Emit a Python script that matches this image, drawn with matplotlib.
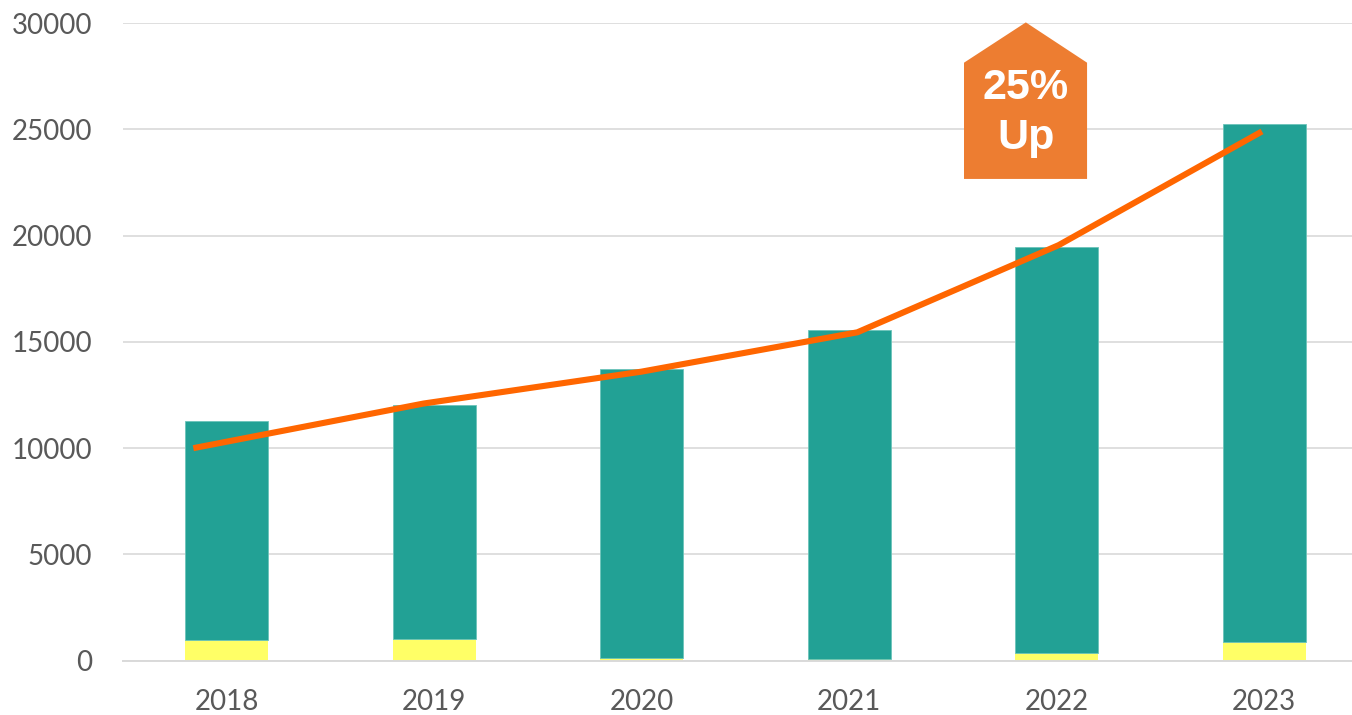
import matplotlib.pyplot as plt
from matplotlib.patches import Polygon

years = ["2018", "2019", "2020", "2021", "2022", "2023"]
total = [11300, 12030, 13720, 15570, 19470, 25230]
yellow_part = [960, 1010, 110, 70, 376, 860]
teal_part = [t - y for t, y in zip(total, yellow_part)]

# trend line drawn over the bars (x in category units)
trend_x = [-0.16, 0.95, 2.0, 3.04, 4.01, 4.99]
trend_y = [10000, 12100, 13600, 15450, 19550, 24900]

badge_label = ["25%", "Up"]

TEAL = "#22A195"
YELLOW = "#FFFF66"
LINE = "#FF6600"
BADGE = "#ED7D31"
GRID = "#D9D9D9"
TXT = "#595959"

plt.rcParams["font.family"] = ["Lato", "DejaVu Sans"]

fig = plt.figure(figsize=(13.52, 7.15), dpi=100)
ax = fig.add_axes([0.0908, 0.0759, 0.9209, 0.8919])

x = list(range(len(years)))
ax.bar(x, yellow_part, width=0.4, color=YELLOW, zorder=2)
ax.bar(x, teal_part, width=0.4, bottom=yellow_part, color=TEAL,
       edgecolor="#6cc4ba", linewidth=0.6, zorder=2)
ax.plot(trend_x, trend_y, color=LINE, linewidth=4.4, solid_capstyle="butt",
        solid_joinstyle="miter", zorder=3)

# "25% Up" badge (house shape)
bx0, bx1, bapex = 3.554, 4.147, 3.852
by0, bshoulder, btop = 22665, 28134, 30030
badge = Polygon([(bx0, by0), (bx1, by0), (bx1, bshoulder), (bapex, btop), (bx0, bshoulder)],
                closed=True, facecolor=BADGE, edgecolor="none", zorder=4, clip_on=False)
ax.add_patch(badge)
ax.text(bapex, 26406, badge_label[0], ha="center", va="baseline", color="white",
        fontsize=31, fontweight="bold", family="Liberation Sans", zorder=5)
ax.text(bapex, 24054, badge_label[1], ha="center", va="baseline", color="white",
        fontsize=31, fontweight="bold", family="Liberation Sans", zorder=5)

ax.set_xlim(-0.5, 5.5)
ax.set_ylim(0, 30000)
ax.set_yticks(range(0, 30001, 5000))
ax.set_xticks(x)
ax.set_xticklabels(years)

ax.grid(axis="y", color=GRID, linewidth=1.2, zorder=0)
ax.set_axisbelow(True)
for side in ["top", "right", "left"]:
    ax.spines[side].set_visible(False)
ax.spines["bottom"].set_color(GRID)
ax.spines["bottom"].set_linewidth(1.4)

ax.tick_params(axis="y", length=0, pad=22, labelsize=20, labelcolor=TXT)
ax.tick_params(axis="x", length=0, pad=20, labelsize=20, labelcolor=TXT)

fig.savefig("out.png", dpi=100)
